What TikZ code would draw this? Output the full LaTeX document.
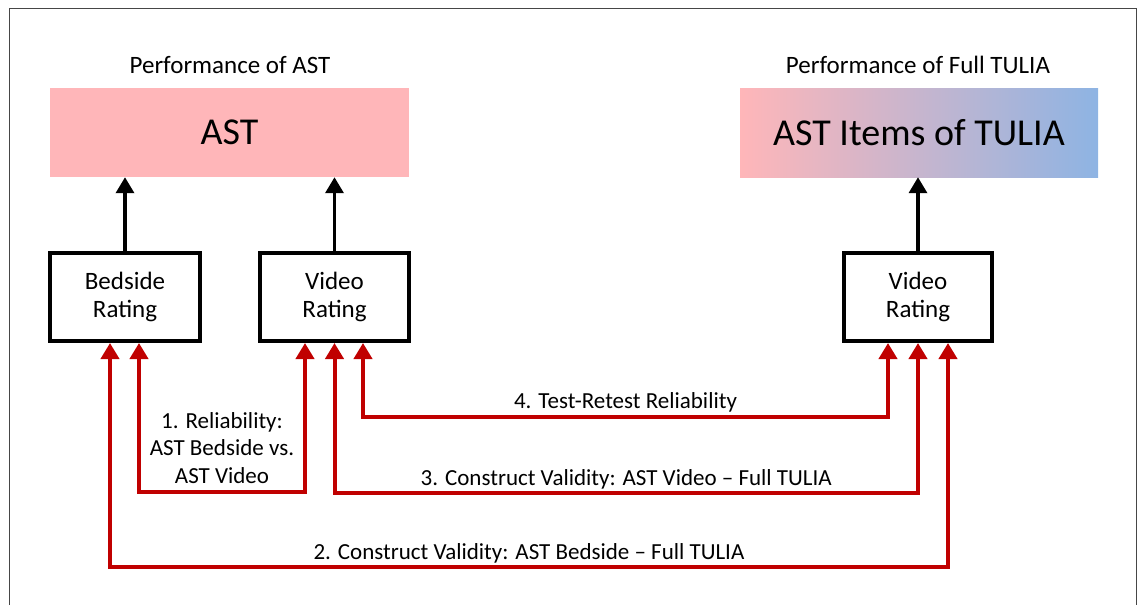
\documentclass[tikz,border=0pt]{standalone}
\usepackage{fontspec}
\setmainfont{Carlito}
\usetikzlibrary{arrows.meta}
\definecolor{astpink}{RGB}{255,182,185}
\definecolor{tublue}{RGB}{142,180,227}
\definecolor{linkred}{RGB}{192,0,0}
\definecolor{framegray}{RGB}{70,70,70}
\tikzset{
  header/.style={font=\fontsize{25}{30}\selectfont, inner sep=0pt},
  bigbox/.style={minimum width=359pt, minimum height=89pt, inner sep=0pt, font=\fontsize{38}{44}\selectfont},
  ratebox/.style={draw=black, line width=4pt, fill=white, minimum height=88pt, align=center, inner sep=0pt, font=\fontsize{25}{28}\selectfont},
  uparr/.style={line width=3.5pt, -{Triangle[width=18pt,length=16pt]}},
  redlink/.style={draw=linkred, line width=4pt, {Triangle[width=18pt,length=16pt]}-{Triangle[width=18pt,length=16pt]}},
  lbl/.style={font=\fontsize{23}{27.3}\selectfont, inner sep=0pt, anchor=base, align=center}
}
\begin{document}
\begin{tikzpicture}[x=1pt,y=-1pt]
\useasboundingbox (0,0) rectangle (1143,605);
\draw[framegray, line width=1.5pt] (9.5,605) -- (9.5,8.5) -- (1136.5,8.5) -- (1136.5,605);

\node[header] (perfast) at (230,65) {Performance of AST};
\node[header] (perftulia) at (918,65) {Performance of Full TULIA};

\node[bigbox, fill=astpink] (ast) at (229.5,132.5) {AST};
\node[bigbox, left color=astpink, right color=tublue, minimum width=358pt] (tulia) at (919,132.5) {AST Items of TULIA};

\node[ratebox, minimum width=150pt] (bed) at (125,297) {Bedside\\Rating};
\node[ratebox, minimum width=149pt] (vidl) at (334.5,297) {Video\\Rating};
\node[ratebox, minimum width=148pt] (vidr) at (918,297) {Video\\Rating};

\draw[uparr] (bed.north) -- (bed.north |- ast.south);
\draw[uparr] (vidl.north) -- (vidl.north |- ast.south);
\draw[uparr] (vidr.north) -- (vidr.north |- tulia.south);

% 1. Reliability
\draw[redlink] ([xshift=14pt]bed.south) -- ++(0,149) -| node[lbl, pos=0.25, yshift=9pt] {1. Reliability:\\AST Bedside vs.\\AST Video} ([xshift=-29.5pt]vidl.south);
% 4. Test-Retest
\draw[redlink] ([xshift=28.5pt]vidl.south) -- ++(0,74) -| node[lbl, pos=0.25, yshift=9pt] {4. Test-Retest Reliability} ([xshift=-30pt]vidr.south);
% 3. Construct validity video
\draw[redlink] (vidl.south) -- ++(0,150) -| node[lbl, pos=0.25, yshift=8pt] {3. Construct Validity: AST Video – Full TULIA} (vidr.south);
% 2. Construct validity bedside
\draw[redlink] ([xshift=-15pt]bed.south) -- ++(0,224) -| node[lbl, pos=0.25, yshift=8pt] {2. Construct Validity: AST Bedside – Full TULIA} ([xshift=30pt]vidr.south);
\end{tikzpicture}
\end{document}
